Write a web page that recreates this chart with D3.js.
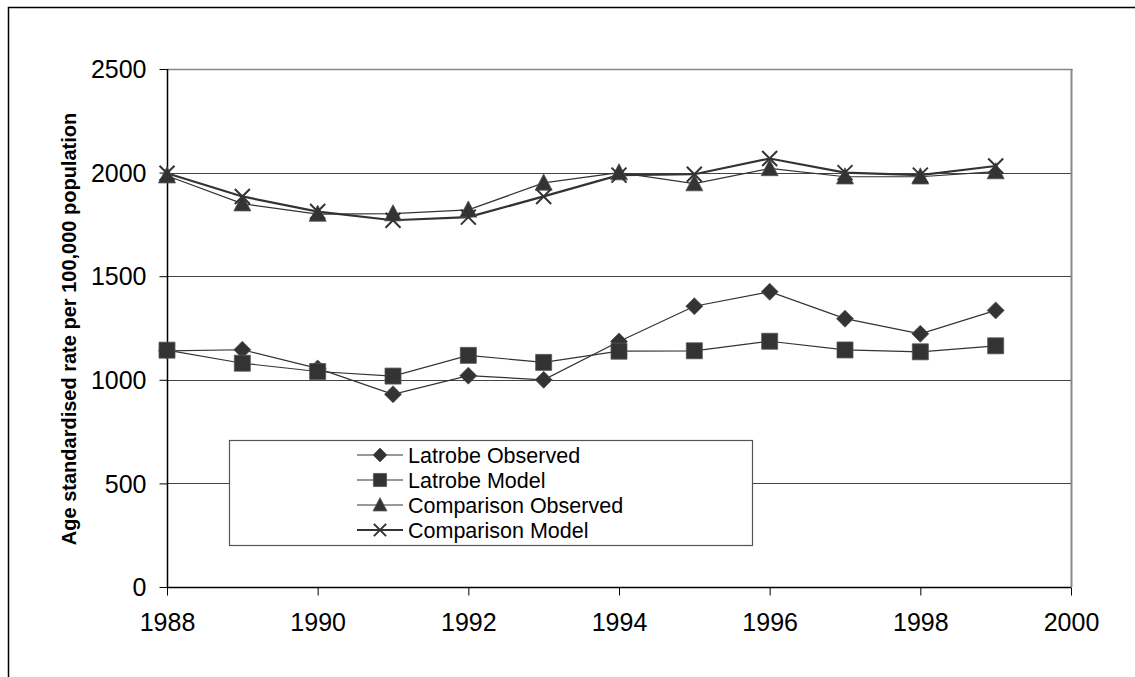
<!DOCTYPE html>
<html>
<head>
<meta charset="utf-8">
<script src="https://cdn.jsdelivr.net/npm/d3@7"></script>
<style>
  html, body { margin: 0; padding: 0; background: #fff; }
  svg { display: block; font-family: Arial, "Liberation Sans", sans-serif; }
</style>
</head>
<body>
<svg id="chart" width="1135" height="677"></svg>
<script>
// Years on the x axis
const years = [1988, 1989, 1990, 1991, 1992, 1993, 1994, 1995, 1996, 1997, 1998, 1999];

// Age standardised rates per 100,000 population
const latrobeObserved    = [1140, 1145, 1055, 930, 1020, 1000, 1185, 1355, 1425, 1295, 1222, 1335];
const latrobeModel       = [1143, 1080, 1040, 1018, 1118, 1084, 1138, 1140, 1186, 1144, 1135, 1164];
const comparisonObserved = [1985, 1850, 1800, 1802, 1820, 1950, 2000, 1947, 2020, 1980, 1980, 2005];
const comparisonModel    = [1997, 1885, 1812, 1770, 1785, 1885, 1988, 1992, 2068, 2000, 1988, 2032];

const seriesNames = ["Latrobe Observed", "Latrobe Model", "Comparison Observed", "Comparison Model"];
const yTicks = [0, 500, 1000, 1500, 2000, 2500];
const xTicks = [1988, 1990, 1992, 1994, 1996, 1998, 2000];

const series = [
  { name: seriesNames[0], values: latrobeObserved,    symbol: "diamond",  width: 1.2 },
  { name: seriesNames[1], values: latrobeModel,       symbol: "square",   width: 1.2 },
  { name: seriesNames[2], values: comparisonObserved, symbol: "triangle", width: 1.2 },
  { name: seriesNames[3], values: comparisonModel,    symbol: "cross",    width: 2.2 }
];

const ink = "#333333";
const svg = d3.select("#chart");

// Outer chart frame
svg.append("rect")
  .attr("x", 8.5).attr("y", 7.5)
  .attr("width", 1200).attr("height", 720)
  .attr("fill", "none").attr("stroke", "#000").attr("stroke-width", 1.5);

const plot = { left: 167, right: 1071, top: 69, bottom: 587 };

const x = d3.scaleLinear().domain([1988, 2000]).range([plot.left, plot.right]);
const y = d3.scaleLinear().domain([0, 2500]).range([plot.bottom, plot.top]);

// Horizontal gridlines
svg.append("g")
  .selectAll("line")
  .data(yTicks.filter(d => d > 0))
  .join("line")
  .attr("x1", plot.left).attr("x2", plot.right)
  .attr("y1", d => Math.round(y(d)) + 0.5).attr("y2", d => Math.round(y(d)) + 0.5)
  .attr("stroke", "#444").attr("stroke-width", 1);

// Plot area border (top and right sides)
svg.append("line")
  .attr("x1", plot.right + 0.5).attr("x2", plot.right + 0.5)
  .attr("y1", plot.top).attr("y2", plot.bottom)
  .attr("stroke", "#888").attr("stroke-width", 2);
svg.append("line")
  .attr("x1", plot.left).attr("x2", plot.right + 1.5)
  .attr("y1", plot.top + 0.5).attr("y2", plot.top + 0.5)
  .attr("stroke", "#888").attr("stroke-width", 1.5);

// Axes
const yAxis = d3.axisLeft(y).tickValues(yTicks).tickSize(8).tickPadding(13).tickFormat(d3.format("d"));
const xAxis = d3.axisBottom(x).tickValues(xTicks).tickSize(8).tickPadding(18).tickFormat(d3.format("d"));

const gy = svg.append("g").attr("transform", `translate(${plot.left + 0.5},0)`).call(yAxis);
const gx = svg.append("g").attr("transform", `translate(0,${plot.bottom + 0.5})`).call(xAxis);

[gx, gy].forEach(g => {
  g.select(".domain").attr("stroke", "#000").attr("stroke-width", 1.5);
  g.selectAll(".tick line").attr("stroke", "#000");
  g.selectAll(".tick text")
    .attr("fill", "#000")
    .attr("font-size", 25)
    .attr("font-family", "Arial, 'Liberation Sans', sans-serif");
});
gy.select(".domain").attr("d", `M0,${plot.top}V${plot.bottom}`);
gx.select(".domain").attr("d", `M${plot.left},0H${plot.right}`);
gy.selectAll(".tick text").attr("dy", "0.35em");

// Y axis title
svg.append("text")
  .attr("transform", `translate(76,${(plot.top + plot.bottom) / 2 + 1}) rotate(-90)`)
  .attr("text-anchor", "middle")
  .attr("font-size", 20)
  .attr("font-weight", "bold")
  .attr("fill", "#000")
  .text("Age standardised rate per 100,000 population");

// Marker shapes
function drawMarker(g, kind, cx, cy, scale = 1) {
  if (kind === "cross") {
    const r = 7.5 * scale;
    g.append("path")
      .attr("d", `M${cx - r},${cy - r}L${cx + r},${cy + r}M${cx - r},${cy + r}L${cx + r},${cy - r}`)
      .attr("stroke", ink).attr("stroke-width", 2).attr("fill", "none");
    return;
  }
  let d;
  if (kind === "diamond") {
    const r = 8.5 * scale;
    d = `M${cx},${cy - r}L${cx + r},${cy}L${cx},${cy + r}L${cx - r},${cy}Z`;
  } else if (kind === "square") {
    const h = 8 * scale;
    d = `M${cx - h},${cy - h}H${cx + h}V${cy + h}H${cx - h}Z`;
  } else {
    const h = 8.5 * scale;
    d = `M${cx},${cy - h * 1.05}L${cx + h},${cy + h * 0.85}L${cx - h},${cy + h * 0.85}Z`;
  }
  g.append("path").attr("d", d).attr("fill", ink).attr("stroke", "#555").attr("stroke-width", 0.8);
}

const line = d3.line().x(d => x(d.year)).y(d => y(d.value));

const marks = svg.append("g");
series.forEach(s => {
  const pts = years.map((yr, i) => ({ year: yr, value: s.values[i] }));
  marks.append("path")
    .datum(pts)
    .attr("d", line)
    .attr("fill", "none")
    .attr("stroke", ink)
    .attr("stroke-width", s.width);
});
series.forEach(s => {
  const g = marks.append("g");
  years.forEach((yr, i) => drawMarker(g, s.symbol, x(yr), y(s.values[i])));
});

// Legend
const legend = svg.append("g");
legend.append("rect")
  .attr("x", 229.5).attr("y", 440.5)
  .attr("width", 523).attr("height", 105)
  .attr("fill", "#fff").attr("stroke", "#555").attr("stroke-width", 1.2);

const rowY = [455, 480, 505, 530];
series.forEach((s, i) => {
  const ly = rowY[i];
  legend.append("line")
    .attr("x1", 357).attr("x2", 403)
    .attr("y1", ly).attr("y2", ly)
    .attr("stroke", ink).attr("stroke-width", s.width);
  drawMarker(legend, s.symbol, 380, ly, 0.82);
  legend.append("text")
    .attr("x", 408).attr("y", ly)
    .attr("dy", "0.35em")
    .attr("font-size", 21.5)
    .attr("fill", "#000")
    .text(s.name);
});
</script>
</body>
</html>
